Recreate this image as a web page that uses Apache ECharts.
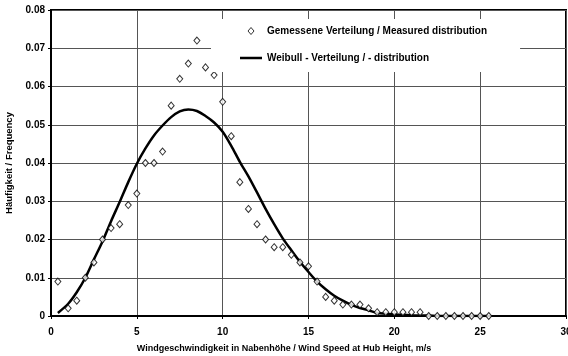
<!DOCTYPE html>
<html>
<head>
<meta charset="utf-8">
<script src="https://cdn.jsdelivr.net/npm/echarts@6/dist/echarts.min.js"></script>
<style>
html,body{margin:0;padding:0;background:#fff;}
#chart{width:568px;height:356px;}
</style>
</head>
<body>
<div id="chart"></div>
<script>
// Measured distribution (wind speed m/s, frequency)
const measuredSpeed = [0.4,1,1.5,2,2.5,3,3.5,4,4.5,5,5.5,6,6.5,7,7.5,8,8.5,9,9.5,10,10.5,11,11.5,12,12.5,13,13.5,14,14.5,15,15.5,16,16.5,17,17.5,18,18.5,19,19.5,20,20.5,21,21.5,22,22.5,23,23.5,24,24.5,25,25.5];
const measuredFreq = [0.009,0.002,0.004,0.010,0.014,0.020,0.023,0.024,0.029,0.032,0.040,0.040,0.043,0.055,0.062,0.066,0.072,0.065,0.063,0.056,0.047,0.035,0.028,0.024,0.020,0.018,0.018,0.016,0.014,0.013,0.009,0.005,0.004,0.003,0.003,0.003,0.002,0.001,0.001,0.001,0.001,0.001,0.001,0,0,0,0,0,0,0,0];
// Weibull distribution curve
const weibullSpeed = [0.4,1,1.5,2,2.5,3,3.5,4,4.5,5,5.5,6,6.5,7,7.5,8,8.5,9,9.5,10,10.5,11,11.5,12,12.5,13,13.5,14,14.5,15,15.5,16,16.5,17,17.5,18,18.5,19,19.5,20,20.5,21,21.5,22,22.5,23,23.5,24,24.5,25,25.5];
const weibullFreq = [0.0008,0.0032,0.0062,0.0100,0.0148,0.0195,0.0248,0.0298,0.0350,0.0398,0.0438,0.0472,0.0498,0.0520,0.0535,0.0540,0.0536,0.0523,0.0506,0.0482,0.0445,0.0403,0.0365,0.0323,0.0280,0.0240,0.0203,0.0172,0.0142,0.0115,0.0090,0.0070,0.0053,0.0040,0.0029,0.0021,0.0015,0.0008,0.0006,0.0004,0.0003,0.0002,0.0001,0.0001,0,0,0,0,0,0,0];

const seriesNames = ['Gemessene Verteilung / Measured distribution', 'Weibull - Verteilung / - distribution'];
const xTitle = 'Windgeschwindigkeit in Nabenhöhe / Wind Speed at Hub Height, m/s';
const yTitle = 'Häufigkeit / Frequency';

const FONT = '"Liberation Sans", Arial, sans-serif';
const chart = echarts.init(document.getElementById('chart'), null, {renderer: 'canvas'});
chart.setOption({
  animation: false,
  backgroundColor: '#fff',
  grid: {left: 51, right: 2, top: 10, bottom: 40, show: true, borderColor: '#000', borderWidth: 2, backgroundColor: '#fff', containLabel: false, outerBoundsMode: 'none'},
  legend: {
    orient: 'vertical', left: 211, top: 19,
    padding: [6, 33, 8, 29],
    backgroundColor: '#fff',
    itemWidth: 22, itemHeight: 7, itemGap: 15,
    symbolKeepAspect: true,
    textStyle: {fontFamily: FONT, fontWeight: 'bold', fontSize: 10, color: '#000', lineHeight: 12},
    data: [
      {name: seriesNames[0], icon: 'path://M3,0L6,3.5L3,7L0,3.5Z', itemStyle: {color: '#fff', borderColor: '#000', borderWidth: 1}},
      {name: seriesNames[1], icon: 'path://M0,0H22V2.5H0Z', itemStyle: {color: '#000', borderWidth: 0}}
    ]
  },
  xAxis: {
    type: 'value', min: 0, max: 30, interval: 5,
    name: xTitle, nameLocation: 'middle', nameGap: 28,
    nameTextStyle: {fontFamily: FONT, fontWeight: 'bold', fontSize: 9, color: '#000', padding: [0, 49, 0, 0]},
    axisLine: {lineStyle: {color: '#000', width: 2}},
    axisTick: {show: true, length: 3, lineStyle: {color: '#000'}},
    axisLabel: {fontFamily: FONT, fontWeight: 'bold', fontSize: 10, color: '#000', margin: 11, showMaxLabel: true},
    splitLine: {show: true, lineStyle: {color: '#555', width: 1}}
  },
  yAxis: {
    type: 'value', min: 0, max: 0.08, interval: 0.01,
    name: yTitle, nameLocation: 'middle', nameGap: 37, nameRotate: 90,
    nameTextStyle: {fontFamily: FONT, fontWeight: 'bold', fontSize: 9.5, color: '#000'},
    axisLine: {lineStyle: {color: '#000', width: 2}},
    axisTick: {show: true, length: 3, lineStyle: {color: '#000'}},
    axisLabel: {fontFamily: FONT, fontWeight: 'bold', fontSize: 10, color: '#000', margin: 6},
    splitLine: {show: true, lineStyle: {color: '#555', width: 1}}
  },
  series: [
    {
      name: seriesNames[1], type: 'line', symbol: 'none', smooth: 0.3, z: 2,
      lineStyle: {color: '#000', width: 2.5},
      itemStyle: {color: '#000'},
      data: weibullSpeed.map((x, i) => [x, weibullFreq[i]])
    },
    {
      name: seriesNames[0], type: 'scatter', symbol: 'diamond', symbolSize: [6, 7], z: 3,
      itemStyle: {color: '#fff', borderColor: '#000', borderWidth: 1},
      data: measuredSpeed.map((x, i) => [x, measuredFreq[i]])
    }
  ]
});
</script>
</body>
</html>
